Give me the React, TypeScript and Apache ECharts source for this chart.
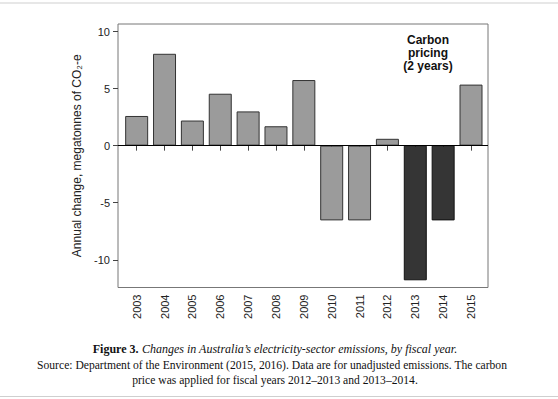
import React, { useEffect, useRef } from "react";
import * as echarts from "echarts";

const years = [2003, 2004, 2005, 2006, 2007, 2008, 2009, 2010, 2011, 2012, 2013, 2014, 2015];
const changes = [2.6, 8.05, 2.2, 4.55, 3.0, 1.7, 5.75, -6.55, -6.55, 0.6, -11.8, -6.55, 5.35];
const carbonPricingYears = [2013, 2014];
const yTicks = [-10, -5, 0, 5, 10];

export default function App() {
  const ref = useRef<HTMLDivElement>(null);
  useEffect(() => {
    if (!ref.current) return;
    const chart = echarts.init(ref.current, undefined, { renderer: "svg" });
    const light = "#9b9b9b";
    const dark = "#353535";
    const data = years.map((y, i) => {
      const priced = carbonPricingYears.includes(y);
      return {
        value: [y, changes[i]],
        itemStyle: {
          color: priced ? dark : light,
          borderColor: priced ? "#111" : "#333",
          borderWidth: 1,
        },
      };
    });
    chart.setOption({
      animation: false,
      backgroundColor: "#fff",
      grid: {
        left: 118,
        top: 24,
        width: 370,
        height: 263.5,
        show: true,
        borderColor: "#777",
        borderWidth: 1,
        backgroundColor: "transparent",
      },
      xAxis: {
        type: "value",
        min: 2002.33,
        max: 2015.61,
        splitLine: { show: false },
        axisLine: { show: false },
        axisTick: {
          show: true,
          inside: false,
          length: 5,
          lineStyle: { color: "#444" },
          customValues: years,
        },
        axisLabel: {
          customValues: years,
          rotate: 90,
          margin: 7,
          color: "#222",
          fontSize: 11,
          fontFamily: "Liberation Sans, Arial, sans-serif",
          formatter: (v: number) => String(Math.round(v)),
        },
      },
      yAxis: {
        type: "value",
        min: -12.43,
        max: 10.66,
        splitLine: { show: false },
        axisLine: { show: false },
        axisTick: {
          show: true,
          inside: false,
          length: 5,
          lineStyle: { color: "#444" },
          customValues: yTicks,
        },
        axisLabel: {
          customValues: yTicks,
          margin: 8,
          color: "#222",
          fontSize: 11,
          fontFamily: "Liberation Sans, Arial, sans-serif",
        },
        name: "Annual change, megatonnes of CO₂-e",
        nameLocation: "middle",
        nameGap: 35,
        nameRotate: 90,
        nameTextStyle: {
          color: "#222",
          fontSize: 12,
          fontFamily: "Liberation Sans, Arial, sans-serif",
        },
      },
      series: [
        {
          type: "bar",
          barWidth: 23,
          data,
          markLine: {
            silent: true,
            symbol: "none",
            label: { show: false },
            lineStyle: { color: "#000", width: 1, type: "solid" },
            data: [{ yAxis: 0 }],
          },
        },
      ],
      graphic: [
        {
          type: "line",
          shape: { x1: 0, y1: 3, x2: 558, y2: 3 },
          style: { stroke: "#cfcfcf", lineWidth: 1 },
        },
        {
          type: "line",
          shape: { x1: 0, y1: 396.5, x2: 558, y2: 396.5 },
          style: { stroke: "#cfcfcf", lineWidth: 1 },
        },
        {
          type: "text",
          x: 428,
          y: 34,
          style: {
            text: "Carbon\npricing\n(2 years)",
            align: "center",
            verticalAlign: "top",
            lineHeight: 12.7,
            font: "bold 12px Liberation Sans, Arial, sans-serif",
            fill: "#111",
          },
        },
        {
          type: "text",
          x: 275,
          y: 348.5,
          style: {
            text: "{b|Figure 3.} {i|Changes in Australia’s electricity-sector emissions, by fiscal year.}",
            align: "center",
            verticalAlign: "middle",
            rich: {
              b: { fontFamily: "Liberation Serif, Times New Roman, serif", fontWeight: "bold", fontSize: 12, fill: "#111", color: "#111" },
              i: { fontFamily: "Liberation Serif, Times New Roman, serif", fontStyle: "italic", fontSize: 12, fill: "#111", color: "#111" },
            },
          },
        },
        {
          type: "text",
          x: 272,
          y: 365,
          style: {
            text: "Source: Department of the Environment (2015, 2016). Data are for unadjusted emissions. The carbon",
            align: "center",
            verticalAlign: "middle",
            font: "11.6px Liberation Serif, Times New Roman, serif",
            fill: "#111",
          },
        },
        {
          type: "text",
          x: 275,
          y: 380,
          style: {
            text: "price was applied for fiscal years 2012–2013 and 2013–2014.",
            align: "center",
            verticalAlign: "middle",
            font: "11.6px Liberation Serif, Times New Roman, serif",
            fill: "#111",
          },
        },
      ],
    });
    return () => chart.dispose();
  }, []);
  return (
    <div
      ref={ref}
      style={{ width: 558, height: 399, position: "absolute", left: 0, top: 0 }}
    />
  );
}
